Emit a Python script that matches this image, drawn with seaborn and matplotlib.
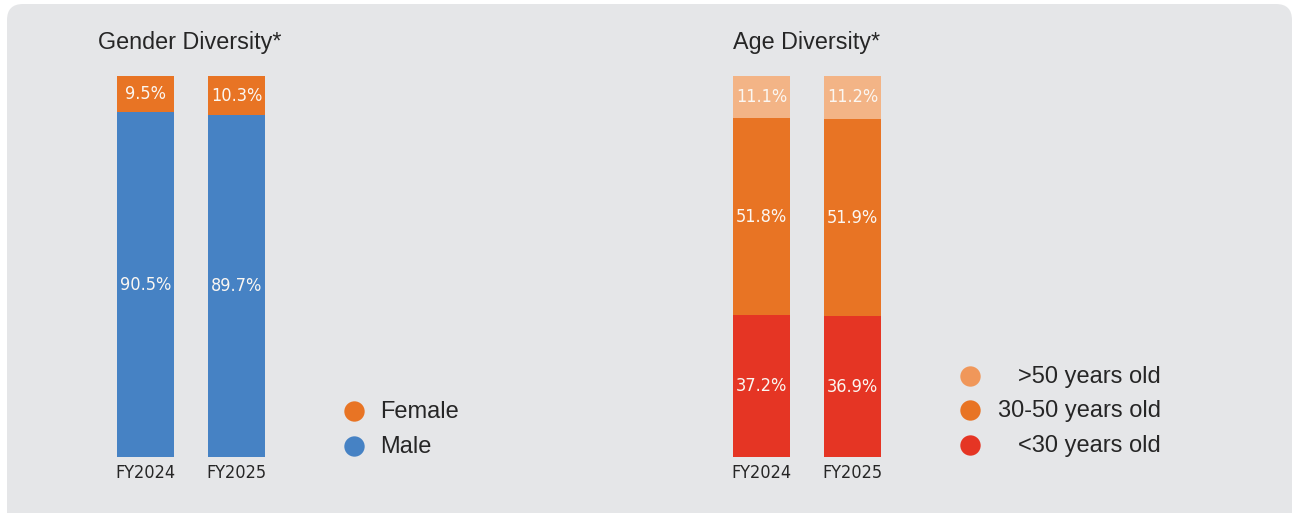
import matplotlib
matplotlib.use("Agg")
import matplotlib.pyplot as plt
import seaborn as sns
import pandas as pd
from matplotlib.patches import FancyBboxPatch
from matplotlib import font_manager
from matplotlib.font_manager import FontProperties

# ---------------- data ----------------
years = ["FY2024", "FY2025"]
male = [90.5, 89.7]
female = [9.5, 10.3]
age_under30 = [37.2, 36.9]
age_30_50 = [51.8, 51.9]
age_over50 = [11.1, 11.2]

gender_title = "Gender Diversity*"
age_title = "Age Diversity*"
gender_legend = ["Female", "Male"]
age_legend = [">50 years old", "30-50 years old", "<30 years old"]

# ---------------- style ----------------
C_MALE = "#4682c4"
C_FEMALE = "#e87424"
C_OVER50 = "#f3b486"
C_OVER50_LEG = "#f0975a"
C_MID = "#e87424"
C_UNDER30 = "#e53524"
BG = "#e5e6e8"
TXT = "#262626"

sns.set_theme(style="white")
plt.rcParams["font.family"] = ["Liberation Sans", "DejaVu Sans"]

# look for a condensed / narrow sans face for the small labels
narrow_path = None
prefs = ["LiberationSansNarrow-Regular", "DejaVuSansCondensed.", "RobotoCondensed-Regular",
         "Roboto_Condensed-Regular", "OpenSans_Condensed-Regular", "OpenSansCondensed-Regular"]
files = [f.fname for f in font_manager.fontManager.ttflist]
for p in prefs:
    hits = [f for f in files if p in f.split("/")[-1]]
    if hits:
        narrow_path = hits[0]
        break
if narrow_path is None:
    for f in files:
        b = f.split("/")[-1].lower()
        if ("condensed" in b or "narrow" in b) and "bold" not in b and "italic" not in b \
                and "light" not in b and "semi" not in b and "extra" not in b:
            narrow_path = f
            break


def small_font(size):
    if narrow_path:
        return FontProperties(fname=narrow_path, size=size)
    return FontProperties(family="Liberation Sans", size=size * 0.92)


W, H = 1293, 513
fig = plt.figure(figsize=(W / 100, H / 100), dpi=100)
fig.patch.set_facecolor("white")


def px_axes(left, top, width, height, **kw):
    return fig.add_axes([left / W, (H - top - height) / H, width / W, height / H], **kw)


ov = fig.add_axes([0, 0, 1, 1], zorder=-5)
ov.set_xlim(0, W)
ov.set_ylim(H, 0)
ov.axis("off")
ov.add_patch(FancyBboxPatch((7, 4), 1285, 540,
                            boxstyle="round,pad=0,rounding_size=16",
                            facecolor=BG, edgecolor="none", zorder=0))


def stacked(ax, segments, colors):
    cum = []
    run = [0.0] * len(years)
    for seg in segments:
        run = [r + s for r, s in zip(run, seg)]
        cum.append(list(run))
    for tot, col in reversed(list(zip(cum, colors))):
        df = pd.DataFrame({"year": years, "val": tot})
        sns.barplot(data=df, x="year", y="val", color=col, width=57 / 91,
                    saturation=1, ax=ax, linewidth=0, zorder=2)
    base = [0.0] * len(years)
    for seg in segments:
        for i, v in enumerate(seg):
            ax.text(i, base[i] + v / 2, f"{v}%", ha="center", va="center",
                    color="#fbf7f2", fontproperties=small_font(13), zorder=5)
        base = [b + v for b, v in zip(base, seg)]
    ax.set_xlim(-0.5, 1.5)
    ax.set_ylim(0, 100)
    ax.set_facecolor("none")
    for s in ax.spines.values():
        s.set_visible(False)
    ax.set_yticks([])
    ax.set_xlabel("")
    ax.set_ylabel("")
    ax.tick_params(axis="x", length=0, pad=5, labelcolor=TXT)
    for t in ax.get_xticklabels():
        t.set_fontproperties(small_font(13))
        t.set_color(TXT)


ax1 = px_axes(100, 76, 182, 381)
stacked(ax1, [male, female], [C_MALE, C_FEMALE])
ax2 = px_axes(716, 76, 182, 381)
stacked(ax2, [age_under30, age_30_50, age_over50], [C_UNDER30, C_MID, C_OVER50])

ov.text(98, 43, gender_title, ha="left", va="center", fontsize=16.8, color=TXT)
ov.text(733, 43, age_title, ha="left", va="center", fontsize=16.8, color=TXT)

for lab, col, y in zip(gender_legend, [C_FEMALE, C_MALE], [411, 446]):
    ov.scatter([354], [y], s=215, color=col, linewidths=0, zorder=3)
    ov.text(380, y + 1, lab, ha="left", va="center", fontsize=17, color=TXT)

for lab, col, y in zip(age_legend, [C_OVER50_LEG, C_MID, C_UNDER30], [376, 410, 445]):
    ov.scatter([970], [y], s=215, color=col, linewidths=0, zorder=3)
    ov.text(1161, y + 1, lab, ha="right", va="center", fontsize=17, color=TXT)

fig.savefig("out.png", dpi=100, facecolor="white")
